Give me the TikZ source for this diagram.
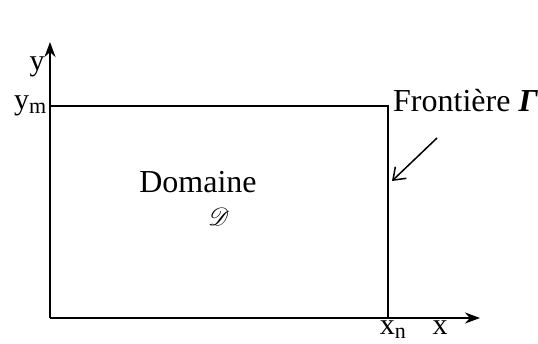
\documentclass[tikz,border=0pt]{standalone}
\usepackage{fontspec}
\setmainfont{Liberation Serif}
\usepackage{mathrsfs}
\usetikzlibrary{arrows.meta}
\begin{document}
\begin{tikzpicture}[x=1pt,y=-1pt,
  axis/.style={line width=2.2pt,-{Stealth[length=15pt,width=11pt]}},
  edge/.style={line width=2.2pt},
  lbl/.style={inner sep=0pt,font=\fontsize{30}{32}\selectfont},
  pointer/.style={line width=1.5pt,-{Straight Barb[length=11pt,width=16pt]}}]
\useasboundingbox (0,0) rectangle (538,343);
\coordinate (O) at (50,318);
\coordinate (Ytip) at (50,42);
\coordinate (Xtip) at (480,318);
\coordinate (YM) at (50,106);
\coordinate (TR) at (388,106);
\coordinate (XN) at (388,318);
\draw[axis] (O) -- (Ytip);
\draw[axis] (O) -- (Xtip);
\draw[edge] (YM) -- (TR) -- (XN);
\coordinate (P0) at (437,138);
\coordinate (P1) at (392,181);
\draw[pointer] (P0) -- (P1);
\node[lbl] (ylab) at (37,67) {y};
\node[lbl,anchor=east] (ymlab) at (47,106) {y\textsubscript{\fontsize{22}{24}\selectfont m}};
\node[lbl,anchor=west,font=\fontsize{32}{35}\selectfont] (front) at (393,101) {Frontière \textbf{\textit{Γ}}};
\node[lbl,font=\fontsize{32}{34}\selectfont] (dom) at (198,182) {Domaine};
\node[lbl,font=\fontsize{30}{32}\selectfont] (D) at (219,217) {$\mathscr{D}$};
\node[lbl,anchor=north] (xnlab) at (393,321) {x\textsubscript{\fontsize{22}{24}\selectfont n}};
\node[lbl,anchor=north] (xlab) at (440,321) {x};
\end{tikzpicture}
\end{document}
